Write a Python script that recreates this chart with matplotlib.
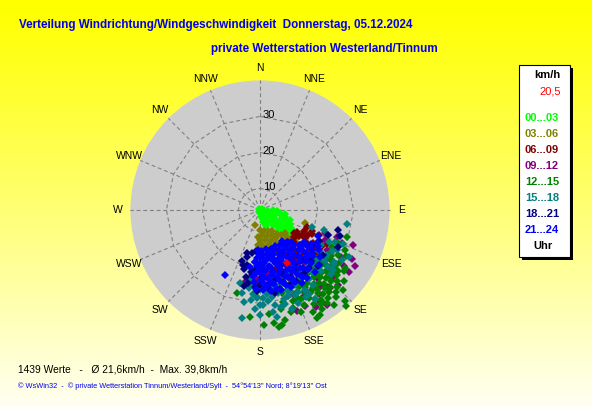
import numpy as np
import matplotlib
matplotlib.use("Agg")
import matplotlib.pyplot as plt
from matplotlib.patches import Circle, Rectangle

# ---------------- data (direction in degrees from N, speed in km/h) ----------------
HOUR_LABELS = ["00...03", "03...06", "06...09", "09...12", "12...15", "15...18", "18...21", "21...24"]
HOUR_COLORS = ["#00FF00", "#808000", "#800000", "#800080", "#008000", "#008080", "#000080", "#0000FF"]

DIR_00 = [315, 60, 100, 140, 175, 200, 85, 115, 150, 170, 95, 125, 160, 105, 135, 165, 92, 118, 148, 110,
          130, 158, 95, 122, 140, 105, 128, 115, 135, 100, 124, 140, 112, 130, 120, 135, 115, 126, 132, 120,
          127, 123, 92, 106, 98, 108]
SPD_00 = [4.4, 4.5, 4.6, 4.7, 4.8, 4.6, 5.2, 5.3, 5.5, 5.9, 6.1, 6.2, 6.6, 6.9, 7.0, 7.4, 7.6, 7.8, 8.0, 8.4,
          8.6, 8.8, 9.0, 9.3, 9.6, 9.9, 10.2, 10.6, 10.9, 11.1, 11.4, 11.6, 11.9, 12.3, 12.7, 12.9, 13.2, 13.6, 14.0, 14.3,
          14.8, 15.2, 8.7, 11.2, 9.5, 12.8]

DIR_03 = [198, 180, 170, 160, 150, 175, 165, 155, 145, 180, 170, 160, 150, 140, 132, 177, 165, 155, 145, 137,
          172, 160, 150, 130, 168, 157, 147, 127, 162, 106, 140, 135, 185, 183, 152, 142]
SPD_03 = [8.4, 9.6, 10.0, 10.3, 10.8, 11.0, 11.4, 11.7, 12.0, 12.2, 12.5, 12.8, 13.0, 13.2, 13.4, 13.6, 13.9, 14.2, 14.5, 14.8,
          14.9, 15.2, 15.4, 15.6, 15.9, 16.2, 16.5, 16.8, 16.7, 17.0, 16.0, 14.0, 11.5, 13.8, 17.2, 17.6]

DIR_06 = [128, 119, 131, 129, 118, 151, 146, 110, 159, 124, 136, 142, 125, 134, 115, 140, 150, 155, 122, 133,
          145, 112, 120, 138, 148, 127, 160, 165, 157, 143, 135, 117, 150, 121, 130,
          115, 122, 127, 133, 138, 126, 120, 113, 131, 145, 141, 117, 124, 136, 129]
SPD_06 = [16.4, 18.3, 18.8, 21.8, 22.9, 18.3, 21.4, 17.9, 15.9, 17.0, 17.5, 19.0, 19.8, 20.5, 20.0, 22.0, 20.0, 22.5, 21.5, 23.0,
          16.8, 19.5, 16.0, 15.8, 23.5, 24.0, 19.5, 21.0, 24.5, 24.5, 26.0, 24.8, 26.0, 17.6, 19.2,
          17.5, 18.8, 20.2, 17.0, 19.5, 22.8, 24.0, 21.8, 25.0, 20.5, 18.0, 19.0, 15.5, 21.3, 16.0]

DIR_09 = [109.5, 109.3, 111.9, 110.6, 120.8, 120.5, 133.9, 138.6, 144.8, 146.9, 153.7, 163.2, 182.4, 191.8, 186.4, 181.4,
          137.7, 132.5, 125, 130, 140, 150, 145, 155, 160, 170, 175, 165, 135, 128, 118, 142, 148, 158, 138, 124, 115, 170,
          128, 133, 140, 146, 152, 158, 163, 168, 173, 178, 183, 120, 125, 118, 145, 155, 160, 150]
SPD_09 = [23.2, 26.7, 28.6, 31.6, 25.7, 34.6, 34.0, 32.5, 36.2, 34.5, 31.0, 25.2, 24.3, 24.4, 21.3, 26.2,
          24.6, 31.5, 28, 27, 29, 28, 26, 24, 22, 20, 23, 27, 22, 30, 27, 31, 30.5, 29.5, 33, 32, 24, 25.5,
          22.5, 25.3, 23.5, 22, 21, 26.5, 23.5, 22, 21.5, 25, 23, 30, 34.2, 33, 32.5, 33.5, 34, 35]

DIR_12 = [107.2, 112.9, 124.3, 138.1, 150.3, 152.5, 195.5, 185.3, 182, 166, 169.2, 167.2, 171, 161.4, 123, 121,
          133, 140, 147, 128, 135, 142, 149, 155, 126, 131, 137, 143, 150, 156, 127, 133, 139, 145, 152, 158,
          125, 130, 136, 141, 147, 153, 128, 133, 138, 144, 150, 156, 126, 131, 136, 141, 146, 152,
          129, 134, 139, 144, 149, 155, 130, 135, 140, 145, 151, 133, 138, 143, 148, 135, 140, 146, 150,
          137, 142, 147, 139, 144,
          126, 130, 134, 120, 118, 155, 158, 160, 163, 148, 142, 137, 152, 146, 128, 123, 117, 115, 132, 140,
          150, 157, 162, 165, 155, 160, 168, 175, 178, 173]
SPD_12 = [29.3, 27.5, 32.6, 39.8, 37.6, 35.9, 27.9, 33.9, 28.2, 30.3, 36.5, 35.3, 37.0, 32.7, 30.5, 27.0,
          24.2, 24.5, 23.9, 25.3, 25.1, 24.8, 25.4, 25.0, 26.2, 25.9, 26.3, 26.0, 26.4, 25.8, 27.1, 26.8, 27.3, 27.0, 26.9, 27.2,
          28.1, 27.8, 28.3, 28.0, 28.2, 27.9, 29.2, 28.9, 29.1, 29.3, 28.8, 29.0, 30.1, 29.8, 30.3, 30.0, 30.2, 29.9,
          31.1, 30.9, 31.3, 31.0, 30.8, 31.2, 32.1, 31.9, 32.2, 32.0, 31.8, 33.1, 32.9, 33.2, 33.0, 34.1, 33.9, 34.2, 34.0,
          35.1, 34.9, 35.2, 36.0, 35.8,
          33.0, 34.5, 36.0, 29.0, 31.0, 33.0, 34.5, 31.0, 33.5, 36.5, 37.5, 38.5, 38.0, 34.8, 31.5, 27.5, 26.5, 30.0, 29.6, 27.6,
          27.6, 30.5, 29.2, 28.0, 26.0, 26.5, 32.0, 33.0, 36.0, 35.5]

DIR_15 = [99.1, 107.4, 108.1, 117.5, 121.4, 123.9, 129.4, 188.1, 189.5, 192.2, 180, 171, 171, 178.2, 172.1, 161.3,
          165, 157.6, 150.6, 175, 168, 162, 155, 150, 145, 140, 135, 130, 125, 120, 182, 185, 178, 170, 165,
          158, 152, 148, 175, 183, 190, 160, 155, 145, 135, 128, 115, 112, 118, 126, 132,
          140, 145, 150, 155, 160, 165, 170, 175, 180, 185, 130, 125, 120, 113, 110, 168, 173, 162, 178, 188, 195, 180, 186]
SPD_15 = [28.4, 22.6, 19.2, 28.1, 30.7, 26.4, 30.3, 23.6, 34.4, 27.6, 33.2, 30.7, 34.1, 30.4, 28.4, 27.4,
          25.6, 29.5, 29.5, 26.5, 27.5, 29, 27, 25.5, 27.5, 26.5, 28, 25, 24, 23.5, 28.5, 25, 24, 23, 31,
          32, 31.5, 33, 29.5, 31.5, 30, 24, 22.5, 23.5, 25.5, 27, 25, 29, 32, 29.5, 30.5,
          24.5, 29.5, 31, 29, 28, 29.5, 26, 27.5, 26, 27.5, 28.5, 29, 27, 26.5, 24, 31.5, 32.5, 33, 28.5, 26, 25, 30.5, 29]

DIR_18 = [195.5, 193.3, 187, 180, 172.9, 175.2, 185.5, 167.9, 104.4, 158.2, 197, 190, 195, 189, 184, 178, 182, 175,
          168, 162, 155, 150, 145, 140, 135, 130, 186, 180, 176, 170, 110, 125, 115, 192, 200, 170, 165, 160,
          188, 192, 197, 184, 178, 172, 166, 160, 153, 147, 140, 134, 126, 118, 108]
SPD_18 = [17.5, 19.7, 22.2, 24.8, 26.4, 20.7, 18.5, 23.9, 26.4, 26.4, 16.5, 16.0, 21, 24.5, 20.5, 22.5, 26.5, 25.3,
          21.5, 25, 24.5, 23.5, 25.5, 22, 24, 23, 15.5, 17, 18.8, 16.5, 24, 21.5, 28, 25.5, 19, 27.5, 18.5, 20.5,
          21.5, 23.0, 20.0, 25.5, 21.0, 24.5, 26.5, 23.0, 26.0, 22.0, 25.0, 26.5, 25.5, 22.5, 27.5]

DIR_21 = [150, 158, 165, 172, 178, 183,
          141, 147, 155, 162, 169, 176, 181,
          136, 143, 150, 157, 164, 171, 178, 184,
          132, 139, 146, 153, 160, 167, 174, 180,
          129, 136, 143, 150, 157, 164, 171, 178, 183,
          127, 134, 141, 148, 155, 162, 169, 176, 181,
          126, 133, 140, 147, 154, 161, 168, 175, 180,
          128, 135, 142, 149, 156, 163, 170, 177,
          131, 138, 145, 152, 159, 166, 173, 179,
          136, 143, 150, 157, 164, 171, 177,
          141, 148, 155, 162, 169, 175,
          147, 154, 161, 168,
          208, 114, 122, 186, 190, 124, 128, 133, 138, 165, 172, 158, 178,
          186, 184, 185, 183, 145, 150, 130, 124, 120, 136, 140, 145, 126]
SPD_21 = [15.2, 14.8, 15.3, 15.0, 15.4, 15.1,
          16.3, 16.0, 16.4, 15.9, 16.2, 16.5, 16.1,
          17.2, 17.4, 17.0, 17.3, 16.9, 17.5, 17.1, 17.3,
          18.4, 18.1, 18.5, 18.2, 18.6, 18.0, 18.3, 18.7,
          19.3, 19.6, 19.2, 19.5, 19.1, 19.4, 19.7, 19.2, 19.5,
          20.4, 20.1, 20.6, 20.2, 20.5, 20.0, 20.3, 20.7, 20.2,
          21.3, 21.6, 21.1, 21.4, 21.7, 21.2, 21.5, 21.0, 21.4,
          22.2, 22.5, 22.0, 22.6, 22.3, 22.1, 22.4, 22.7,
          23.4, 23.1, 23.5, 23.2, 23.6, 23.3, 23.0, 23.4,
          24.3, 24.0, 24.4, 24.1, 24.5, 24.2, 24.6,
          25.2, 25.5, 25.1, 25.4, 25.0, 25.3,
          26.1, 26.4, 26.0, 26.3,
          24.5, 21.7, 23.0, 22.5, 20.0, 23.8, 25.2, 26.3, 27.0, 27.0, 26.8, 27.2, 26.2,
          18.5, 21.5, 24.0, 26.0, 27.0, 27.5, 22.8, 21.0, 22.2, 16.5, 15.5, 14.5, 19.0]

CURRENT_DIR = 153
CURRENT_SPD = 20.5

RING_SPEEDS = [10, 20, 30]
DIR_NAMES = ["N", "NNE", "NE", "ENE", "E", "ESE", "SE", "SSE",
             "S", "SSW", "SW", "WSW", "W", "WNW", "NW", "NNW"]

TITLE1 = "Verteilung Windrichtung/Windgeschwindigkeit  Donnerstag, 05.12.2024"
TITLE2 = "private Wetterstation Westerland/Tinnum"
STATS = "1439 Werte   -   \u00d8 21,6km/h  -  Max. 39,8km/h"
FOOTER = "\u00a9 WsWin32  -  \u00a9 private Wetterstation Tinnum/Westerland/Sylt  -  54\u00b054'13'' Nord; 8\u00b019'13'' Ost"

SPEED_AT_CENTER = 4.0
SPEED_AT_EDGE = 40.0

# ---------------- figure ----------------
W, H = 592, 407
fig = plt.figure(figsize=(W / 100, H / 100), dpi=100)
plt.rcParams['font.family'] = ['Liberation Sans', 'DejaVu Sans']

# background gradient
bg = fig.add_axes([0, 0, 1, 1], zorder=-10)
grad = np.linspace(0, 1, 256)[:, None]
img = np.zeros((256, 1, 3))
img[..., 0] = 1.0
img[..., 1] = 1.0
img[..., 2] = (grad ** 1.1) * 0.95
bg.imshow(img, aspect='auto', extent=[0, 1, 0, 1], origin='upper')
bg.set_axis_off()

def fx(x):
    return x / W

def fy(y):
    return 1 - y / H

# main rose axes (cartesian, 3.6 px per km/h)
cx, cy, half = 260, 210, 150
ax = fig.add_axes([fx(cx - half), fy(cy + half), 2 * half / W, 2 * half / H])
L = half / 3.6
ax.set_xlim(-L, L)
ax.set_ylim(-L, L)
ax.set_axis_off()

def to_xy(d, s):
    th = np.deg2rad(np.asarray(d, dtype=float))
    r = np.asarray(s, dtype=float) - SPEED_AT_CENTER
    return r * np.sin(th), r * np.cos(th)

R_EDGE = SPEED_AT_EDGE - SPEED_AT_CENTER
ax.add_patch(Circle((0, 0), R_EDGE, facecolor="#CDCDCD", edgecolor="none", zorder=0))

grid_kw = dict(color="#808080", lw=0.8, dashes=(3.5, 2.5), zorder=1)
angles = np.arange(17) * 22.5
for rs in RING_SPEEDS:
    gx, gy = to_xy(angles, np.full(17, rs))
    ax.plot(gx, gy, **grid_kw)
for a in angles[:16]:
    gx, gy = to_xy([a, a], [SPEED_AT_CENTER, SPEED_AT_EDGE])
    ax.plot(gx, gy, **grid_kw)

for rs in RING_SPEEDS:
    ax.text(0.8, rs - SPEED_AT_CENTER + 0.3, str(rs), ha='left', va='center', fontsize=8, color='black', zorder=2)

for i, name in enumerate(DIR_NAMES):
    lx, ly = to_xy(i * 22.5, SPEED_AT_CENTER + 39.4)
    ax.text(lx, ly, name, ha='center', va='center', fontsize=7.5, color='black', clip_on=False)

groups = [(DIR_00, SPD_00), (DIR_03, SPD_03), (DIR_06, SPD_06), (DIR_09, SPD_09),
          (DIR_12, SPD_12), (DIR_15, SPD_15), (DIR_18, SPD_18), (DIR_21, SPD_21)]
MS = 4.0
for (d, s), col in zip(groups, HOUR_COLORS):
    px, py = to_xy(d, s)
    ax.plot(px, py, 'D', ms=MS, mew=0, color=col, zorder=3)
px, py = to_xy([CURRENT_DIR], [CURRENT_SPD])
ax.plot(px, py, 'D', ms=MS, mew=0, color='#FF0000', zorder=4)

# titles
title_kw = dict(color='#0000EE', fontweight='bold', fontsize=8.35, va='center', ha='left')
fig.text(fx(19), fy(25), TITLE1, **title_kw)
fig.text(fx(211), fy(49), TITLE2, **title_kw)

# legend box with shadow
bx0, by0, bx1, by1 = 519, 65, 570, 257
fig.patches.append(Rectangle((fx(bx0 + 3), fy(by1 + 3)), (bx1 - bx0) / W, (by1 - by0) / H,
                             transform=fig.transFigure, facecolor='black', edgecolor='none', zorder=5))
fig.patches.append(Rectangle((fx(bx0), fy(by1)), (bx1 - bx0) / W, (by1 - by0) / H,
                             transform=fig.transFigure, facecolor='white', edgecolor='black', lw=0.8, zorder=6))
fig.text(fx(547), fy(75), "km/h", ha='center', va='center', fontsize=8, fontweight='bold', color='black', zorder=7)
fig.text(fx(561), fy(92), "20,5", ha='right', va='center', fontsize=8, color='#FF0000', zorder=7)
for i, (lab, col) in enumerate(zip(HOUR_LABELS, HOUR_COLORS)):
    fig.text(fx(542), fy(118 + i * 16), lab, ha='center', va='center', fontsize=8,
             fontweight='bold', color=col, zorder=7)
fig.text(fx(543), fy(246), "Uhr", ha='center', va='center', fontsize=8, fontweight='bold', color='black', zorder=7)

# bottom texts
fig.text(fx(18), fy(369), STATS, ha='left', va='center', fontsize=7.4, color='black')
fig.text(fx(18), fy(386), FOOTER, ha='left', va='center', fontsize=5.3, color='#0000EE')

fig.savefig("out.png", dpi=100)
